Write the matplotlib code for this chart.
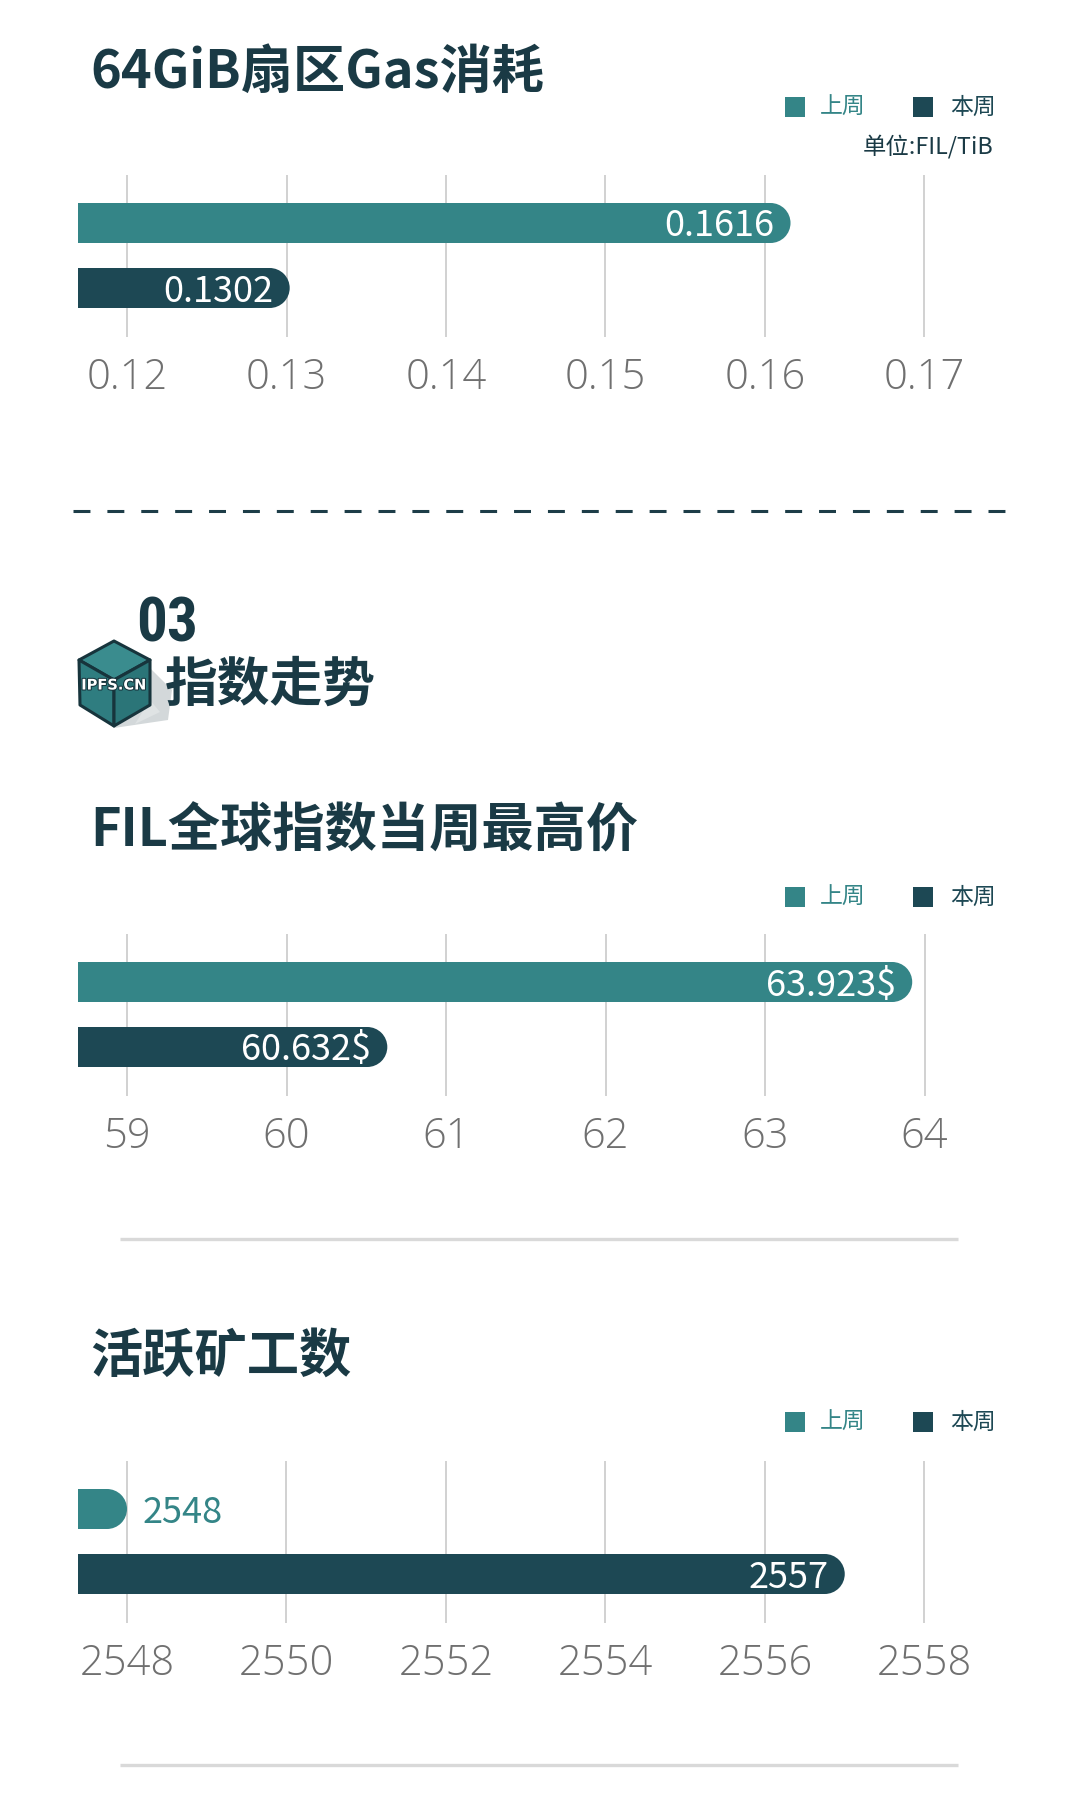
import matplotlib
matplotlib.use("Agg")
import matplotlib.pyplot as plt
from matplotlib.patches import Ellipse, Polygon, Rectangle
from matplotlib.lines import Line2D
import matplotlib.patheffects as pe

plt.rcParams['font.family'] = ['Noto Sans CJK SC', 'DejaVu Sans']
plt.rcParams['lines.scale_dashes'] = False

# ---------------- data ----------------
series_names = ["上周", "本周"]

gas_title = "64GiB扇区Gas消耗"
gas_values = [0.1616, 0.1302]
gas_labels = ["0.1616", "0.1302"]
gas_ticks = [0.12, 0.13, 0.14, 0.15, 0.16, 0.17]
gas_tick_labels = ["0.12", "0.13", "0.14", "0.15", "0.16", "0.17"]
gas_unit = "单位:FIL/TiB"

fil_title = "FIL全球指数当周最高价"
fil_values = [63.923, 60.632]
fil_labels = ["63.923$", "60.632$"]
fil_ticks = [59, 60, 61, 62, 63, 64]
fil_tick_labels = ["59", "60", "61", "62", "63", "64"]

miner_title = "活跃矿工数"
miner_values = [2548, 2557]
miner_labels = ["2548", "2557"]
miner_ticks = [2548, 2550, 2552, 2554, 2556, 2558]
miner_tick_labels = ["2548", "2550", "2552", "2554", "2556", "2558"]

section_num = "03"
section_title = "指数走势"
logo_text = "IPFS.CN"

# ---------------- style ----------------
W, H = 1080, 1819
TEAL = "#348587"
DARK = "#1d4854"
TITLE = "#1a3a45"
GRID = "#c9c9c9"
TICK = "#707070"

fig = plt.figure(figsize=(W / 100, H / 100), dpi=100)
fig.patch.set_facecolor("white")


def fx(x):
    return x / W


def fy(y):
    return 1 - y / H


AX_LEFT, AX_RIGHT = 78, 1000
FIRST_TICK_PX, TICK_STEP_PX = 127, 159.5
BAR_SPACING_PX = 65
BAR_H_PX = 40


def bar_chart(grid_top, values, labels, ticks, tick_labels, title, title_y, legend_y, unit=None):
    grid_h = 162
    ax = fig.add_axes([fx(AX_LEFT), fy(grid_top + grid_h), (AX_RIGHT - AX_LEFT) / W, grid_h / H])
    step = ticks[1] - ticks[0]
    xmin = ticks[0] - (FIRST_TICK_PX - AX_LEFT) / TICK_STEP_PX * step
    xmax = ticks[0] + (AX_RIGHT - FIRST_TICK_PX) / TICK_STEP_PX * step
    ax.set_xlim(xmin, xmax)
    top_off = 48 / BAR_SPACING_PX
    ax.set_ylim(1 + (grid_h - 48 - BAR_SPACING_PX) / BAR_SPACING_PX, -top_off)
    for s in ax.spines.values():
        s.set_visible(False)
    ax.set_yticks([])
    ax.set_xticks(ticks)
    ax.set_xticklabels(tick_labels)
    ax.tick_params(axis='x', length=0, pad=29.2, labelsize=30, labelcolor=TICK)
    for lbl in ax.get_xticklabels():
        lbl.set_verticalalignment('center')
        lbl.set_family(['Open Sans', 'Noto Sans CJK SC'])
        lbl.set_fontweight('light')
    ax.grid(axis='x', color=GRID, linewidth=1.2)
    ax.set_axisbelow(True)
    ax.patch.set_alpha(0)

    dx_per_px = (xmax - xmin) / (AX_RIGHT - AX_LEFT)
    ylo, yhi = ax.get_ylim()
    dy_per_px = abs(ylo - yhi) / grid_h
    bar_h = BAR_H_PX * dy_per_px
    r = BAR_H_PX / 2 * dx_per_px
    colors = [TEAL, DARK]
    for i, (v, lab) in enumerate(zip(values, labels)):
        ax.barh(i, v - r - (xmin - r), left=xmin - r, height=bar_h, color=colors[i], zorder=3,
                clip_on=True)
        ax.add_patch(Ellipse((v - r, i), 2 * r, bar_h, facecolor=colors[i], edgecolor='none', zorder=3))
        length_px = (v - xmin) / dx_per_px
        ty = i + 3.5 * dy_per_px
        if length_px > 160:
            ax.text(v - 16 * dx_per_px, ty, lab, ha='right', va='center', color='white',
                    fontsize=26, zorder=4)
        else:
            ax.text(v + 16 * dx_per_px, ty, lab, ha='left', va='center', color=colors[i],
                    fontsize=26, zorder=4)

    # title
    fig.text(fx(90), fy(title_y), title, ha='left', va='center', fontsize=37.6,
             fontweight='bold', color=TITLE)
    # legend
    for name, col, sx, tx in zip(series_names, colors, [785, 913], [820, 950]):
        fig.add_artist(Rectangle((fx(sx), fy(legend_y + 10)), 20 / W, 20 / H,
                                 transform=fig.transFigure, facecolor=col, edgecolor='none'))
        fig.text(fx(tx), fy(legend_y), name, ha='left', va='center', fontsize=16.5, color=col)
    if unit:
        fig.text(fx(993), fy(legend_y + 40), unit, ha='right', va='center', fontsize=16.8,
                 color=TITLE)
    return ax


bar_chart(175, gas_values, gas_labels, gas_ticks, gas_tick_labels, gas_title, 72, 107, gas_unit)
bar_chart(934, fil_values, fil_labels, fil_ticks, fil_tick_labels, fil_title, 831, 897)
bar_chart(1461, miner_values, miner_labels, miner_ticks, miner_tick_labels, miner_title, 1356, 1422)

# dashed divider
fig.add_artist(Line2D([fx(73), fx(1007)], [fy(511), fy(511)], transform=fig.transFigure,
                      color="#1d3d48", linewidth=2.2, dashes=(12.2, 12.2)))
# solid separators
for yy in [1239, 1765]:
    fig.add_artist(Line2D([fx(120), fx(958)], [fy(yy), fy(yy)], transform=fig.transFigure,
                          color="#d9d9d9", linewidth=2.4, solid_capstyle='butt'))

# ---------------- section header icon ----------------
def poly(pts, **kw):
    fig.add_artist(Polygon([(fx(x), fy(y)) for x, y in pts], closed=True,
                           transform=fig.transFigure, **kw))

# shadow
poly([(150, 668), (172, 690), (168, 720), (114, 728), (150, 705)], facecolor="#c9cfd1",
     edgecolor='none', alpha=0.8)
poly([(150, 700), (160, 712), (135, 724)], facecolor="#dfe3e4", edgecolor='none')
# top face
poly([(114, 641), (150, 660), (114, 680), (79, 660)], facecolor="#3a8c8e", edgecolor="#17343c",
     linewidth=2.2, joinstyle='round')
# left face
poly([(79, 660), (114, 680), (114, 726), (80, 705)], facecolor="#2f7d80", edgecolor="#17343c",
     linewidth=2.2, joinstyle='round')
# right face
poly([(114, 680), (150, 660), (150, 705), (114, 726)], facecolor="#2b7578", edgecolor="#17343c",
     linewidth=2.2, joinstyle='round')
fig.text(fx(114), fy(685), logo_text, ha='center', va='center', fontsize=10.5,
         fontweight='bold', color='white', family=['DejaVu Sans'],
         path_effects=[pe.withStroke(linewidth=1.5, foreground="#17343c")])

fig.text(fx(136), fy(624), section_num, ha='left', va='center', fontsize=44, fontweight='bold',
         color=TITLE, family=['Liberation Sans Narrow', 'DejaVu Sans Condensed', 'Roboto Condensed',
                              'Open Sans Condensed', 'Noto Sans CJK SC'])
fig.text(fx(165), fy(685), section_title, ha='left', va='center', fontsize=38,
         fontweight='bold', color=TITLE)

fig.savefig("out.png", dpi=100, facecolor="white")
